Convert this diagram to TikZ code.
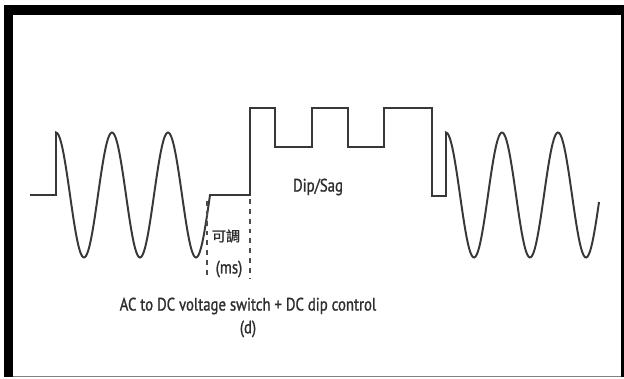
\documentclass[tikz,border=0pt]{standalone}
\usepackage{fontspec}
\setmainfont[FakeStretch=0.82,FakeBold=1.2]{PT Sans}
\newfontfamily\cjkfont[FakeBold=1.2]{Noto Sans CJK TC}
\usepackage{tikz}
\usetikzlibrary{positioning}

\tikzset{
  wave/.style={line width=1.4pt, black!78, line join=miter},
  marker/.style={line width=1.3pt, black!70, dash pattern=on 3.5pt off 3.5pt},
  lbl/.style={text=black!82, inner sep=0pt, font=\fontsize{12.8}{14}\selectfont}
}

\begin{document}
\begin{tikzpicture}[x=0.025cm, y=-0.025cm]
    \useasboundingbox (0,0) rectangle (624,378);

    % Frame
    \fill[black] (4,5) rectangle (623,15);
    \fill[black] (4,5) rectangle (12.5,377);
    \fill[black] (621,5) rectangle (624,377);
    \draw[gray, line width=0.9pt] (12.5,376.5) -- (621,376.5);

    % Waveform: AC, DC level, dip/sag square wave, AC again
    \draw[wave] (30,195) -- (56,195)
      -- plot[domain=56:210, samples=120] (\x, {195-62.5*cos(6.428571*(\x-56))})
      -- (250,195) -- (250,108) -- (275,108) -- (275,147) -- (312,147)
      -- (312,108) -- (348,108) -- (348,147) -- (384,147) -- (384,108)
      -- (432,108) -- (432,196) -- (446,196)
      -- plot[domain=446:599, samples=120] (\x, {195-62.5*cos(6.428571*(\x-446))});

    % Adjustable interval markers
    \draw[marker] (207,201) -- (207,278);
    \draw[marker] (250,199) -- (250,278);

    % Labels
    \node[lbl] (dip) at (318,187) {Dip/Sag};
    \node[lbl, font=\cjkfont\fontsize{10}{12}\selectfont] (adj) at (226,236) {可調};
    \node[lbl] (ms) at (229,269) {(ms)};
    \node[lbl] (caption) at (248,306) {AC to DC voltage switch + DC dip control};
    \node[lbl, below=4pt of caption] (sub) {(d)};
  \end{tikzpicture}
\end{document}
